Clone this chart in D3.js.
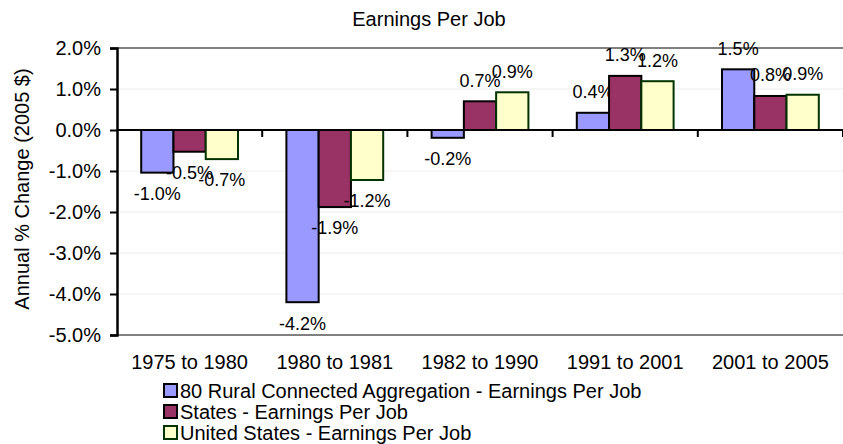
<!DOCTYPE html>
<html>
<head>
<meta charset="utf-8">
<script src="https://cdn.jsdelivr.net/npm/d3@7"></script>
<style>
  html, body { margin: 0; padding: 0; background: #fff; }
  svg { display: block; font-family: "Liberation Sans", Arial, sans-serif; }
</style>
</head>
<body>
<svg id="chart" width="843" height="444"></svg>
<script>
const categories = ["1975 to 1980", "1980 to 1981", "1982 to 1990", "1991 to 2001", "2001 to 2005"];
const seriesNames = [
  "80 Rural Connected Aggregation - Earnings Per Job",
  "States - Earnings Per Job",
  "United States - Earnings Per Job"
];
const ruralValues = [-1.04, -4.20, -0.19, 0.42, 1.48];
const statesValues = [-0.53, -1.88, 0.70, 1.32, 0.83];
const usValues = [-0.71, -1.22, 0.92, 1.19, 0.86];
const yTicks = [2, 1, 0, -1, -2, -3, -4, -5];
const chartTitle = "Earnings Per Job";
const yTitle = "Annual % Change (2005 $)";

(function () {
const fills = ["#9999FF", "#993366", "#FFFFCC"];
const strokes = ["#000000", "#000000", "#003300"];
const seriesValues = [ruralValues, statesValues, usValues];
const fmt = d => d3.format(".1f")(d).replace("\u2212", "-") + "%";

const svg = d3.select("#chart");
const pLeft = 117, pRight = 843, pTop = 48, pBottom = 335;

const x = d3.scaleBand().domain(categories).range([pLeft, pRight]).paddingInner(0).paddingOuter(0);
const bw = x.bandwidth();
const inner = d3.scaleBand().domain(d3.range(seriesNames.length))
  .range([bw / 6, bw * 5 / 6]).padding(0);
const y = d3.scaleLinear().domain([-5, 2]).range([pBottom, pTop]);

// gridlines
svg.append("g").selectAll("line").data(yTicks.filter(d => d !== 0 && d !== 2 && d !== -5)).join("line")
  .attr("x1", pLeft).attr("x2", pRight)
  .attr("y1", d => y(d)).attr("y2", d => y(d))
  .attr("stroke", "#ececec").attr("stroke-width", 1);

// plot border (top / bottom)
svg.append("line").attr("x1", pLeft).attr("x2", pRight).attr("y1", y(2)).attr("y2", y(2))
  .attr("stroke", "#808080").attr("stroke-width", 2);
svg.append("line").attr("x1", pLeft).attr("x2", pRight).attr("y1", y(-5)).attr("y2", y(-5))
  .attr("stroke", "#808080").attr("stroke-width", 2);

// bars
const groups = svg.append("g").selectAll("g").data(seriesValues).join("g");
groups.each(function(vals, si) {
  d3.select(this).selectAll("rect").data(vals).join("rect")
    .attr("x", (d, i) => x(categories[i]) + inner(si))
    .attr("width", inner.bandwidth())
    .attr("y", d => y(Math.max(0, d)))
    .attr("height", d => Math.abs(y(d) - y(0)))
    .attr("fill", fills[si])
    .attr("stroke", strokes[si])
    .attr("stroke-width", 2);
});

// x axis at zero
svg.append("line").attr("x1", pLeft).attr("x2", pRight).attr("y1", y(0)).attr("y2", y(0))
  .attr("stroke", "#000").attr("stroke-width", 2);
svg.append("g").selectAll("line").data(categories).join("line")
  .attr("x1", d => x(d) + bw).attr("x2", d => x(d) + bw)
  .attr("y1", y(0)).attr("y2", y(0) + 7)
  .attr("stroke", "#000").attr("stroke-width", 2);

// category labels
svg.append("g").selectAll("text").data(categories).join("text")
  .attr("x", d => x(d) + bw / 2)
  .attr("y", 369)
  .attr("text-anchor", "middle")
  .attr("font-size", 20)
  .attr("fill", "#000")
  .text(d => d);

// y axis
const yAxis = d3.axisLeft(y).tickValues(yTicks).tickSize(7).tickPadding(9).tickFormat(fmt);
const yg = svg.append("g").attr("transform", `translate(${pLeft},0)`).call(yAxis);
yg.select(".domain").attr("stroke", "#000").attr("stroke-width", 2.5);
yg.selectAll(".tick line").attr("stroke", "#000").attr("stroke-width", 2);
yg.selectAll(".tick text").attr("font-size", 20).attr("fill", "#000")
  .attr("font-family", "'Liberation Sans', Arial, sans-serif").attr("dy", "0.33em");

// data labels
groups.each(function(vals, si) {
  d3.select(this).selectAll("text").data(vals).join("text")
    .attr("x", (d, i) => x(categories[i]) + inner(si) + inner.bandwidth() / 2)
    .attr("y", d => d >= 0 ? y(d) - 21 : y(d) + 21)
    .attr("dy", "0.35em")
    .attr("text-anchor", "middle")
    .attr("font-size", 18)
    .attr("fill", "#000")
    .text(fmt);
});

// title
svg.append("text").attr("x", 429).attr("y", 26).attr("text-anchor", "middle")
  .attr("font-size", 20).attr("fill", "#000").text(chartTitle);

// y title
svg.append("text").attr("transform", "translate(29,189) rotate(-90)")
  .attr("text-anchor", "middle").attr("font-size", 20).attr("fill", "#000").text(yTitle);

// legend
const legendY = [391, 412, 433];
const lg = svg.append("g").selectAll("g").data(seriesNames).join("g")
  .attr("transform", (d, i) => `translate(164,${legendY[i]})`);
lg.append("rect").attr("x", 0).attr("y", -7).attr("width", 13).attr("height", 13)
  .attr("fill", (d, i) => fills[i]).attr("stroke", (d, i) => strokes[i]).attr("stroke-width", 2);
lg.append("text").attr("x", 16).attr("y", 0).attr("dy", "0.35em")
  .attr("font-size", 20).attr("fill", "#000").text(d => d);
})();
</script>
</body>
</html>
